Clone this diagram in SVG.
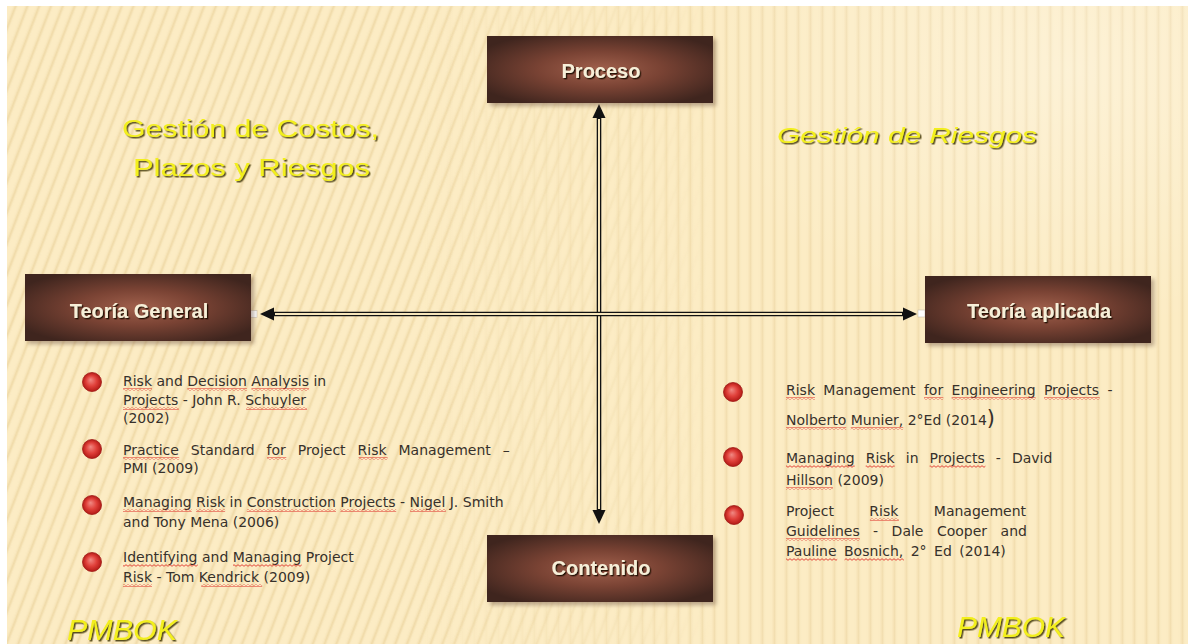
<svg xmlns="http://www.w3.org/2000/svg" width="1188" height="644" viewBox="0 0 1188 644">
  <style>
    .box-text { font-family: "Liberation Sans", Arial, sans-serif; font-weight: bold; font-size: 20px; fill: #f7efd8; text-anchor: middle; filter: url(#boxTextShadow); }
    .title { font-family: "Liberation Sans", Arial, sans-serif; fill: #f3ef1c; filter: url(#titleShadow); }
    .ref { font-family: "DejaVu Sans", "Liberation Sans", sans-serif; font-size: 14px; fill: #37312b; }
    .squiggle { fill: url(#wavy); }
    .outer { fill: none; stroke: #111; stroke-width: 4.6; }
    .inner { fill: none; stroke: #f7e6bb; stroke-width: 2; }
    .handle { fill: #ffffff; stroke: #c8c0b0; stroke-width: 0.6; }
  </style>
  <defs>
    <!-- background stripes -->
    <linearGradient id="stripeFill" x1="0" y1="0" x2="1" y2="0">
      <stop offset="0" stop-color="#fdefc9" stop-opacity="0"/>
      <stop offset="0.55" stop-color="#e9d099" stop-opacity="0.75"/>
      <stop offset="1" stop-color="#fdefc9" stop-opacity="0"/>
    </linearGradient>
    <pattern id="vStripes" width="12" height="40" patternUnits="userSpaceOnUse">
      <rect x="2" y="0" width="8" height="40" fill="url(#stripeFill)"/>
    </pattern>
    <pattern id="dStripes" width="11" height="40" patternUnits="userSpaceOnUse" patternTransform="rotate(21)">
      <rect x="2" y="0" width="7" height="40" fill="url(#stripeFill)"/>
    </pattern>
    <linearGradient id="leftFade" x1="0" y1="0" x2="1188" y2="0" gradientUnits="userSpaceOnUse">
      <stop offset="0.35" stop-color="#fff"/>
      <stop offset="0.6" stop-color="#000"/>
    </linearGradient>
    <linearGradient id="rightFade" x1="0" y1="0" x2="1188" y2="0" gradientUnits="userSpaceOnUse">
      <stop offset="0.35" stop-color="#000"/>
      <stop offset="0.6" stop-color="#aaa"/>
    </linearGradient>
    <mask id="leftMask">
      <rect x="0" y="0" width="1188" height="644" fill="url(#leftFade)"/>
    </mask>
    <mask id="rightMask">
      <rect x="0" y="0" width="1188" height="644" fill="url(#rightFade)"/>
    </mask>
    <radialGradient id="glow" cx="0.5" cy="0.5" r="0.5">
      <stop offset="0" stop-color="#ffffff" stop-opacity="0.3"/>
      <stop offset="1" stop-color="#ffffff" stop-opacity="0"/>
    </radialGradient>

    <!-- red spell-check squiggle -->
    <pattern id="wavy" width="4" height="3" patternUnits="userSpaceOnUse">
      <path d="M0,2.3 L2,0.7 L4,2.3" fill="none" stroke="#e0352c" stroke-width="0.9"/>
    </pattern>

    <!-- node box -->
    <radialGradient id="boxFill" cx="0.5" cy="0.5" r="0.6">
      <stop offset="0" stop-color="#a0604c"/>
      <stop offset="0.45" stop-color="#7a4334"/>
      <stop offset="1" stop-color="#3f251e"/>
    </radialGradient>
    <filter id="boxShadow" x="-10%" y="-20%" width="130%" height="160%">
      <feGaussianBlur stdDeviation="2"/>
    </filter>
    <filter id="boxTextShadow" x="-10%" y="-30%" width="120%" height="160%">
      <feDropShadow dx="1.3" dy="1.3" stdDeviation="0.5" flood-color="#1a0a06" flood-opacity="0.95"/>
    </filter>
    <filter id="titleShadow" x="-5%" y="-30%" width="110%" height="160%">
      <feDropShadow dx="1.5" dy="1.5" stdDeviation="0.7" flood-color="#4a3c10" flood-opacity="0.9"/>
    </filter>
    <g id="box">
      <rect x="3" y="3" width="226" height="67" fill="#6a5040" opacity="0.45" filter="url(#boxShadow)"/>
      <rect x="0" y="0" width="226" height="67" fill="url(#boxFill)"/>
    </g>

    <!-- bullet -->
    <radialGradient id="bulletFill" cx="0.5" cy="0.5" r="0.5" fx="0.42" fy="0.38">
      <stop offset="0" stop-color="#f08a84"/>
      <stop offset="0.55" stop-color="#e0403a"/>
      <stop offset="1" stop-color="#b31a16"/>
    </radialGradient>
    <circle id="bullet" cx="0" cy="0" r="9.5" fill="url(#bulletFill)" stroke="#a01a16" stroke-width="0.8"/>

    <!-- arrowhead -->
    <marker id="arrow" viewBox="0 0 14 14" refX="4" refY="7" markerWidth="14" markerHeight="14" markerUnits="userSpaceOnUse" orient="auto-start-reverse">
      <path d="M0,0.5 L14,7 L0,13.5 z" fill="#111"/>
    </marker>
  </defs>

  <!-- background -->
  <rect x="0" y="0" width="1188" height="644" fill="#ffffff"/>
  <rect x="7" y="6" width="1181" height="638" fill="#fcecc4"/>
  <rect x="7" y="6" width="1181" height="638" fill="url(#dStripes)" mask="url(#leftMask)"/>
  <rect x="7" y="6" width="1181" height="638" fill="url(#vStripes)" mask="url(#rightMask)"/>
  <ellipse cx="1070" cy="70" rx="380" ry="260" fill="url(#glow)"/>

  <!-- titles -->
  <g id="titles">
    <text class="title" x="122" y="137" font-size="23" textLength="257" lengthAdjust="spacingAndGlyphs">Gestión de Costos,</text>
    <text class="title" x="133" y="176" font-size="23" textLength="237" lengthAdjust="spacingAndGlyphs">Plazos y Riesgos</text>
    <text class="title" x="777" y="143" font-size="21.5" font-style="italic" textLength="260" lengthAdjust="spacingAndGlyphs">Gestión de Riesgos</text>
    <text class="title" x="67" y="640" font-size="30" font-style="italic" textLength="110" lengthAdjust="spacingAndGlyphs">PMBOK</text>
    <text class="title" x="957" y="637" font-size="30" font-style="italic" textLength="108" lengthAdjust="spacingAndGlyphs">PMBOK</text>
  </g>

  <!-- connectors -->
  <g id="connectors">
    <path class="outer" d="M599,114 L599,514" marker-start="url(#arrow)" marker-end="url(#arrow)"/>
    <path class="inner" d="M599,119 L599,509"/>
    <path class="outer" d="M270,314 L907,314" marker-start="url(#arrow)" marker-end="url(#arrow)"/>
    <path class="inner" d="M275,314 L902,314"/>
    <rect class="handle" x="250" y="310.5" width="7" height="7"/>
    <rect class="handle" x="918" y="310" width="7" height="7"/>
  </g>

  <!-- nodes -->
  <g id="node-proceso">
    <use href="#box" x="487" y="36"/>
    <text class="box-text" x="601" y="78">Proceso</text>
  </g>
  <g id="node-teoria-general">
    <use href="#box" x="25" y="274"/>
    <text class="box-text" x="139" y="318">Teoría General</text>
  </g>
  <g id="node-teoria-aplicada">
    <use href="#box" x="925" y="276"/>
    <text class="box-text" x="1039" y="318">Teoría aplicada</text>
  </g>
  <g id="node-contenido">
    <use href="#box" x="487" y="535"/>
    <text class="box-text" x="601" y="575">Contenido</text>
  </g>

  <!-- references: general theory -->
  <g id="refs-general">
    <use href="#bullet" x="92" y="382"/>
    <text class="ref" x="123" y="386">Risk and Decision Analysis in</text>
    <text class="ref" x="123" y="405">Projects - John R. Schuyler</text>
    <text class="ref" x="123" y="423">(2002)</text>

    <use href="#bullet" x="92" y="449"/>
    <text class="ref" x="123" y="455" word-spacing="7.5">Practice Standard for Project Risk Management –</text>
    <text class="ref" x="123" y="473">PMI (2009)</text>

    <use href="#bullet" x="92" y="505"/>
    <text class="ref" x="123" y="507">Managing Risk in Construction Projects - Nigel J. Smith</text>
    <text class="ref" x="123" y="527">and Tony Mena (2006)</text>

    <use href="#bullet" x="92" y="562"/>
    <text class="ref" x="123" y="562">Identifying and Managing Project</text>
    <text class="ref" x="123" y="582">Risk - Tom Kendrick (2009)</text>

    <g class="squiggle">
      <rect x="123" y="388" width="29" height="3"/>
      <rect x="187.3" y="388" width="59.6" height="3"/>
      <rect x="251.4" y="388" width="57.7" height="3"/>
      <rect x="123" y="407" width="55.8" height="3"/>
      <rect x="246.2" y="407" width="60.9" height="3"/>
      <rect x="123" y="457" width="56.2" height="3"/>
      <rect x="267" y="457" width="19.3" height="3"/>
      <rect x="358.6" y="457" width="29" height="3"/>
      <rect x="123" y="509" width="68.7" height="3"/>
      <rect x="196.1" y="509" width="29" height="3"/>
      <rect x="246.8" y="509" width="89.2" height="3"/>
      <rect x="340.4" y="509" width="55.8" height="3"/>
      <rect x="410.1" y="509" width="35.8" height="3"/>
      <rect x="123" y="564" width="74.8" height="3"/>
      <rect x="233" y="564" width="68.7" height="3"/>
      <rect x="123" y="584" width="29" height="3"/>
      <rect x="201.2" y="584" width="61" height="3"/>
    </g>
  </g>

  <!-- references: applied theory -->
  <g id="refs-aplicada">
    <use href="#bullet" x="733" y="392"/>
    <text class="ref" x="786" y="395" word-spacing="3.9">Risk Management for Engineering Projects -</text>
    <text class="ref" x="786" y="425">Nolberto Munier, 2°Ed (2014<tspan font-size="21">)</tspan></text>

    <use href="#bullet" x="733" y="457"/>
    <text class="ref" x="786" y="463" word-spacing="6.6">Managing Risk in Projects - David</text>
    <text class="ref" x="786" y="485">Hillson (2009)</text>

    <use href="#bullet" x="734" y="515"/>
    <text class="ref" x="786" y="516" word-spacing="31">Project Risk Management</text>
    <text class="ref" x="786" y="536" word-spacing="9">Guidelines - Dale Cooper and</text>
    <text class="ref" x="786" y="556" word-spacing="3">Pauline Bosnich, 2° Ed (2014)</text>

    <g class="squiggle">
      <rect x="786" y="397" width="29" height="3"/>
      <rect x="924" y="397" width="19.3" height="3"/>
      <rect x="951.6" y="397" width="84" height="3"/>
      <rect x="1044" y="397" width="55.7" height="3"/>
      <rect x="786" y="427" width="60.2" height="3"/>
      <rect x="850.7" y="427" width="52.5" height="3"/>
      <rect x="786" y="465" width="68.7" height="3"/>
      <rect x="865.7" y="465" width="29" height="3"/>
      <rect x="929.6" y="465" width="55.8" height="3"/>
      <rect x="786" y="487" width="46.9" height="3"/>
      <rect x="869.9" y="518" width="29" height="3"/>
      <rect x="786" y="538" width="73.7" height="3"/>
      <rect x="786" y="558" width="51.2" height="3"/>
      <rect x="844.6" y="558" width="59.3" height="3"/>
    </g>
  </g>
</svg>
